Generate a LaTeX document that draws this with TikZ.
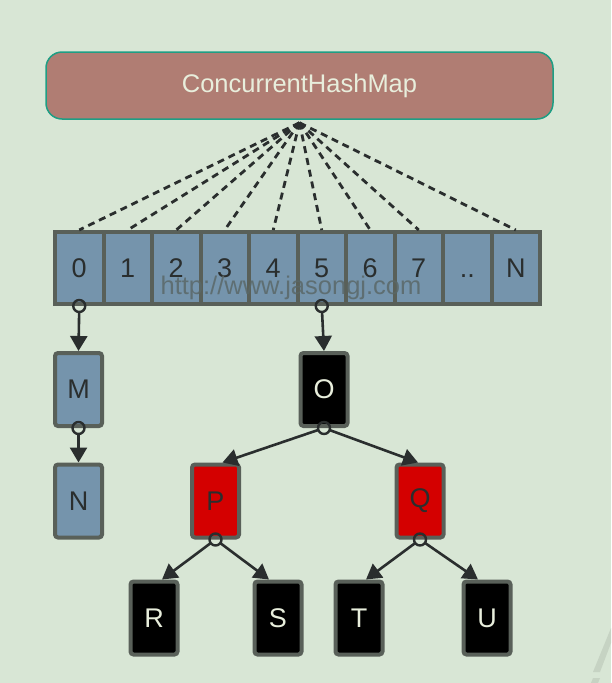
\documentclass[tikz,border=0pt]{standalone}
\usepackage{fontspec}
\setmainfont{Liberation Sans}
\usetikzlibrary{arrows.meta}
\definecolor{bg}{HTML}{D8E6D5}
\definecolor{mapfill}{HTML}{B07D73}
\definecolor{mapline}{HTML}{1E9E84}
\definecolor{cream}{HTML}{E8EEDC}
\definecolor{cellfill}{HTML}{7594AC}
\definecolor{edge}{HTML}{596059}
\definecolor{ink}{HTML}{2A2E2E}
\definecolor{redfill}{HTML}{D40000}
\definecolor{stripe}{HTML}{C6D3C3}
\definecolor{wm}{HTML}{5A6868}
\tikzset{
  mapbox/.style={draw=mapline, line width=1.5pt, fill=mapfill, rounded corners=16pt,
    minimum width=507pt, minimum height=67pt, text=cream,
    font=\fontsize{25.5}{30}\selectfont},
  cellbox/.style={draw=edge, line width=4pt, fill=cellfill, minimum width=48.5pt,
    minimum height=72pt, inner sep=0pt, text=ink, font=\fontsize{27}{30}\selectfont},
  listbox/.style={cellbox, rounded corners=3pt, minimum width=47pt, minimum height=73pt},
  blackbox/.style={listbox, fill=black, text=cream},
  redbox/.style={listbox, fill=redfill, text=ink},
  dashlink/.style={draw=ink, line width=2.8pt, dash pattern=on 7pt off 5pt},
  link/.style={draw=ink, line width=2.6pt, shorten <=6.5pt,
    -{Triangle[length=15pt,width=17pt]}},
  ring/.style={draw=ink, line width=2.4pt},
}
\begin{document}
\begin{tikzpicture}[x=1pt,y=-1pt]
\fill[bg] (0,0) rectangle (611,683);
\useasboundingbox (0,0) rectangle (611,683);
\fill[stripe] (611,628) -- (611,643) -- (600,672) -- (593,672) -- cycle;
\fill[stripe] (593,678) -- (600,678) -- (598,683) -- (591,683) -- cycle;

\node[mapbox] (map) at (299.5,85.5) {ConcurrentHashMap};
\coordinate (hub) at ([yshift=-3pt]map.south);

\foreach \i/\t in {0/0,1/1,2/2,3/3,4/4,5/5,6/6,7/7,8/..,9/N}{
  \node[cellbox] (c\i) at ({79.25+48.5*\i},268) {\vphantom{0}\t};
}
\foreach \i in {0,1,2,3,4,5,6,7,9}{
  \draw[dashlink] (hub) -- (c\i.north);
}
\node[text=wm, opacity=0.85, font=\fontsize{25.5}{30}\selectfont] (wmark) at (291,288) {http://www.jasongj.com};

\node[listbox] (M) at (78.5,389.5) {M};
\node[listbox] (N) at (78.5,501) {N};
\node[blackbox] (O) at (324,389.5) {O};
\node[redbox] (P) at (215.5,501) {P};
\node[redbox] (Q) at (420,501) {Q};
\node[blackbox] (R) at (154,618) {R};
\node[blackbox] (S) at (278,618) {S};
\node[blackbox] (T) at (359,618) {T};
\node[blackbox] (U) at (487,618) {U};

\draw[link] (c0.south) -- (M.north);
\draw[link] (M.south) -- (N.north);
\draw[link] (c5.south) -- (O.north);
\draw[link] (O.south) -- ([xshift=7pt]P.north);
\draw[link] (O.south) -- ([xshift=-2pt]Q.north);
\draw[link] (P.south) -- ([xshift=8pt]R.north);
\draw[link] (P.south) -- ([xshift=-9pt]S.north);
\draw[link] (Q.south) -- ([xshift=7pt]T.north);
\draw[link] (Q.south) -- ([xshift=-9pt]U.north);

\foreach \n in {c0,c5,M,O,P,Q}{
  \draw[ring] (\n.south) circle (6pt);
}
\end{tikzpicture}
\end{document}
